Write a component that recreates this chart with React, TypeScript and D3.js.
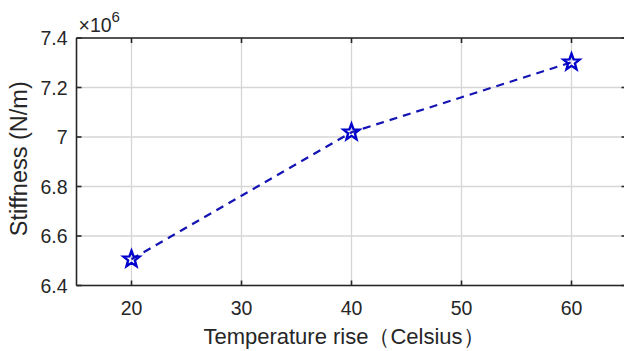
import React from "react";
import * as d3 from "d3";

const temperatures = [20, 40, 60];
const stiffness = [6.506e6, 7.019e6, 7.302e6];
const xTicks = [20, 30, 40, 50, 60];
const yTicks = [6.4, 6.6, 6.8, 7.0, 7.2, 7.4];

const W = 624;
const H = 351;
const FONT = "'Liberation Sans', Arial, Helvetica, sans-serif";

function starPath(r: number): string {
  const inner = r * 0.42;
  const pts: [number, number][] = [];
  for (let i = 0; i < 10; i++) {
    const a = -Math.PI / 2 + (i * Math.PI) / 5;
    const rr = i % 2 === 0 ? r : inner;
    pts.push([rr * Math.cos(a), rr * Math.sin(a)]);
  }
  return d3.line()(pts)! + "Z";
}

export default function App() {
  const x = d3.scaleLinear().domain([15, 65]).range([76.5, 626.5]);
  const y = d3.scaleLinear().domain([6.4, 7.4]).range([285.5, 38]);
  const left = x(15);
  const right = x(65);
  const top = y(7.4);
  const bottom = y(6.4);
  const line = d3
    .line<number>()
    .x((_, i) => x(temperatures[i]))
    .y((d) => y(d / 1e6));
  const star = starPath(8.5);
  const tickLen = 5;
  return (
    <svg
      width={W}
      height={H}
      style={{ position: "absolute", left: 0, top: 0, background: "#fff" }}
      fontFamily={FONT}
    >
      <rect x={0} y={0} width={W} height={H} fill="#fff" />
      {/* grid */}
      {xTicks.map((t) => (
        <line key={"gx" + t} x1={x(t)} x2={x(t)} y1={top} y2={bottom} stroke="#d6d6d6" strokeWidth={1.3} />
      ))}
      {yTicks.map((t) => (
        <line key={"gy" + t} x1={left} x2={right} y1={y(t)} y2={y(t)} stroke="#d6d6d6" strokeWidth={1.3} />
      ))}
      {/* axes box */}
      <line x1={left} x2={right} y1={top} y2={top} stroke="#262626" strokeWidth={1.6} />
      <line x1={left} x2={right} y1={bottom} y2={bottom} stroke="#262626" strokeWidth={1.6} />
      <line x1={left} x2={left} y1={top} y2={bottom} stroke="#262626" strokeWidth={1.6} />
      <line x1={right} x2={right} y1={top} y2={bottom} stroke="#262626" strokeWidth={1.6} />
      {/* ticks */}
      {xTicks.map((t) => (
        <g key={"tx" + t}>
          <line x1={x(t)} x2={x(t)} y1={bottom} y2={bottom - tickLen} stroke="#262626" strokeWidth={1.6} />
          <line x1={x(t)} x2={x(t)} y1={top} y2={top + tickLen} stroke="#262626" strokeWidth={1.6} />
          <text x={x(t)} y={bottom + 29} textAnchor="middle" fontSize={19.5} fill="#262626">
            {t}
          </text>
        </g>
      ))}
      {yTicks.map((t) => (
        <g key={"ty" + t}>
          <line x1={left} x2={left + tickLen} y1={y(t)} y2={y(t)} stroke="#262626" strokeWidth={1.6} />
          <line x1={right} x2={right - tickLen} y1={y(t)} y2={y(t)} stroke="#262626" strokeWidth={1.6} />
          <text x={left - 9} y={y(t) + 7} textAnchor="end" fontSize={19.5} fill="#262626">
            {d3.format("~g")(t)}
          </text>
        </g>
      ))}
      {/* exponent */}
      <text x={left + 2} y={32} fontSize={19.5} fill="#262626">
        ×10
        <tspan dy={-10} fontSize={15}>
          6
        </tspan>
      </text>
      {/* data */}
      <path d={line(stiffness)!} fill="none" stroke="#1414b4" strokeWidth={2.2} strokeDasharray="8,6" />
      {stiffness.map((v, i) => (
        <path
          key={"m" + i}
          d={star}
          transform={`translate(${x(temperatures[i])},${y(v / 1e6)})`}
          fill="none"
          stroke="#0000cc"
          strokeWidth={2.4}
          strokeLinejoin="miter"
        />
      ))}
      {/* labels */}
      <text x={344} y={344} textAnchor="middle" fontSize={22} fill="#262626">
        Temperature rise（Celsius）
      </text>
      <text
        transform={`translate(27,${(top + bottom) / 2 - 3}) rotate(-90)`}
        textAnchor="middle"
        fontSize={23.5}
        fill="#262626"
      >
        Stiffness (N/m)
      </text>
    </svg>
  );
}
